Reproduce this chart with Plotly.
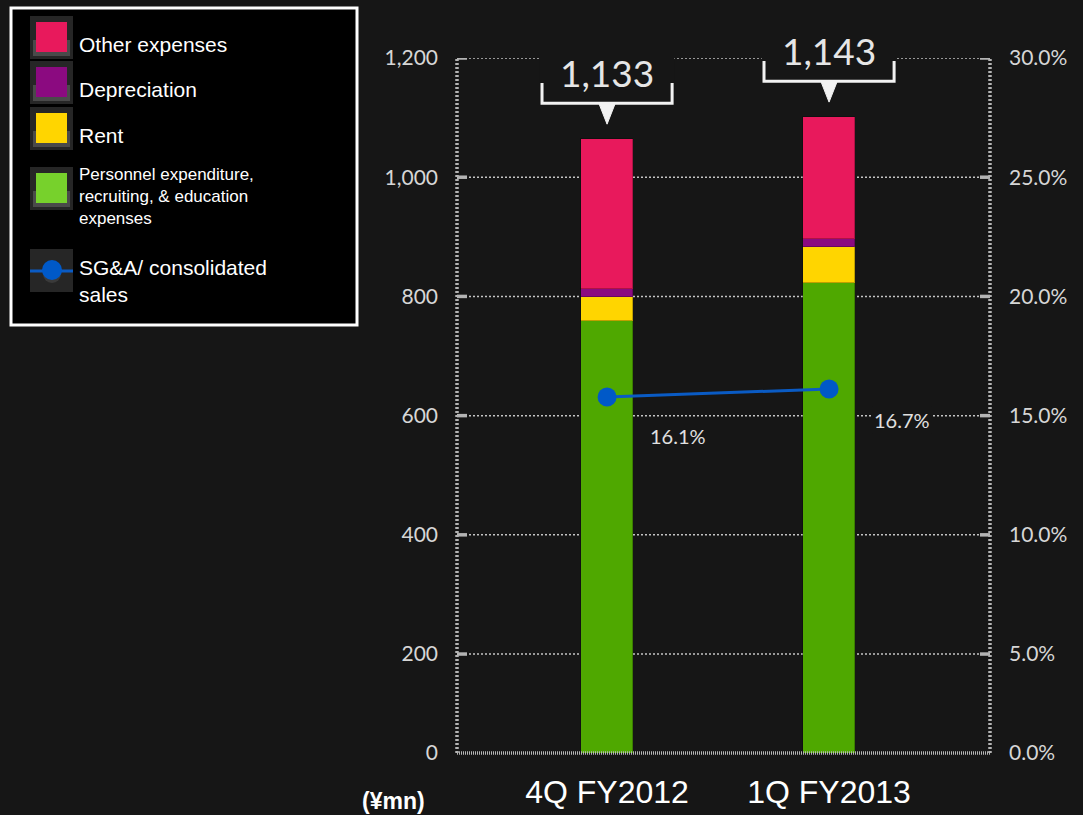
import plotly.graph_objects as go

# ---------------- data ----------------
categories = ["4Q FY2012", "1Q FY2013"]
personnel = [759, 822]
rent = [40, 61]
depreciation = [13, 13]
other = [252, 205]
total_labels = [1133, 1143]
sga_ratio = [15.78, 16.12]
sga_ratio_labels = ["16.1%", "16.7%"]
y_ticks = [0, 200, 400, 600, 800, 1000, 1200]
y_ticktext = ["0", "200", "400", "600", "800", "1,000", "1,200"]
y2_ticks = [0, 5, 10, 15, 20, 25, 30]
y2_ticktext = ["0.0%", "5.0%", "10.0%", "15.0%", "20.0%", "25.0%", "30.0%"]

series_names = ["Other expenses", "Depreciation", "Rent",
                "Personnel expenditure,<br>recruiting, & education<br>expenses"]
line_name = "SG&A/ consolidated<br>sales"

BG = "#161616"
GRID = "#c4c4c4"
AXIS = "#b4b4b4"
C_OTHER = "#E8195C"
C_DEP = "#8B0A80"
C_RENT = "#FFD500"
C_PERS = "#4FA800"
C_PERS_LEG = "#77D12C"
C_LINE = "#0A5BC4"
C_MARK = "#0059C8"

W, H = 1083, 815
ML, MR, MT, MB = 457, 93, 58, 62
PW, PH = W - ML - MR, H - MT - MB

def X(px):
    return (px - ML) / PW

def Y(py):
    return (H - MB - py) / PH

# the original chart's bottom band (0 -> first gridline) is drawn compressed;
# its axes start slightly above zero so the gridlines keep the original spacing
YMIN, YMAX = 34, 1200
Y2MIN, Y2MAX = 0.85, 30

x = list(range(len(categories)))
bw = 0.234

fig = go.Figure()
for vals, col, nm in [(personnel, C_PERS, "Personnel"), (rent, C_RENT, "Rent"),
                      (depreciation, C_DEP, "Depreciation"), (other, C_OTHER, "Other expenses")]:
    fig.add_trace(go.Bar(x=x, y=vals, width=bw, name=nm,
                         marker=dict(color=col, line=dict(color="rgba(0,0,0,0.25)", width=1)),
                         showlegend=False))

fig.add_trace(go.Scatter(x=x, y=sga_ratio, yaxis="y2", mode="lines+markers",
                         line=dict(color=C_LINE, width=3),
                         marker=dict(color=C_MARK, size=19),
                         showlegend=False))

shapes = []
annotations = []

# gridlines (dotted) and inside tick marks
for v in y_ticks[1:]:
    shapes.append(dict(type="line", xref="paper", yref="y", x0=0, x1=1, y0=v, y1=v,
                       line=dict(color=GRID, width=1.5, dash="2px,2px"), layer="below"))
    shapes.append(dict(type="line", xref="paper", yref="y", x0=0, x1=X(ML + 10), y0=v, y1=v,
                       line=dict(color=AXIS, width=3.5), layer="above"))
    shapes.append(dict(type="line", xref="paper", yref="y", x0=X(W - MR - 10), x1=1, y0=v, y1=v,
                       line=dict(color=AXIS, width=3.5), layer="above"))

# axis lines (dotted)
shapes.append(dict(type="line", xref="paper", yref="paper", x0=0, x1=0, y0=0, y1=1,
                   line=dict(color=AXIS, width=3.5, dash="2px,2px")))
shapes.append(dict(type="line", xref="paper", yref="paper", x0=1, x1=1, y0=0, y1=1,
                   line=dict(color=AXIS, width=3.5, dash="2px,2px")))
shapes.append(dict(type="line", xref="paper", yref="paper", x0=0, x1=1, y0=0, y1=0,
                   line=dict(color=AXIS, width=3.5, dash="1px,1px")))

# total callouts
for i in range(len(categories)):
    top = personnel[i] + rent[i] + depreciation[i] + other[i]
    apex = top + 25
    base = apex + 35
    btop = base + 34
    hw = 0.293
    shapes.append(dict(type="rect", xref="x", yref="y", x0=i - hw - 0.01, x1=i + hw + 0.01,
                       y0=base - 2, y1=1300, fillcolor=BG, line=dict(width=0), layer="above"))
    shapes.append(dict(type="path", xref="x", yref="y",
                       path=f"M {i-hw},{btop} L {i-hw},{base} L {i+hw},{base} L {i+hw},{btop}",
                       line=dict(color="#f2f2f2", width=3), layer="above"))
    shapes.append(dict(type="path", xref="x", yref="y",
                       path=f"M {i-0.037},{base} L {i+0.037},{base} L {i},{apex} Z",
                       fillcolor="#f2f2f2", line=dict(color="#f2f2f2", width=1), layer="above"))
    annotations.append(dict(x=i, y=(base + 52 - YMIN) / (YMAX - YMIN), xref="x", yref="paper",
                            text=f"{total_labels[i]:,}",
                            showarrow=False, font=dict(family="Lato", size=37, color="#e6e6e6"),
                            xanchor="center", yanchor="middle"))

# ratio labels
offsets = [(71, -39, None), (73, -31, BG)]
for i, (dx, dy, bg) in enumerate(offsets):
    annotations.append(dict(x=i, y=sga_ratio[i], xref="x", yref="y2", text=sga_ratio_labels[i],
                            showarrow=False, xshift=dx, yshift=dy,
                            font=dict(family="Lato", size=20, color="#e0e0e0"),
                            bgcolor=bg, xanchor="center", yanchor="middle", borderpad=1))

# unit label
annotations.append(dict(x=X(393), y=Y(801), xref="paper", yref="paper", text="<b>(¥mn)</b>",
                        showarrow=False, font=dict(family="Liberation Sans", size=23, color="#ffffff"),
                        xanchor="center", yanchor="middle"))

# ---------------- manual legend ----------------
shapes.append(dict(type="rect", xref="paper", yref="paper", x0=X(11), x1=X(357), y0=Y(8), y1=Y(325),
                   fillcolor="#000000", line=dict(color="#ffffff", width=3)))
leg_items = [
    (series_names[0], C_OTHER, 16, 45, 21),
    (series_names[1], C_DEP, 61, 90, 21),
    (series_names[2], C_RENT, 107, 135, 21),
    (series_names[3], C_PERS_LEG, 167, 196, 17),
]
for name, col, ytop, ytxt, fs in leg_items:
    shapes.append(dict(type="rect", xref="paper", yref="paper", x0=X(30), x1=X(73), y0=Y(ytop), y1=Y(ytop + 43),
                       fillcolor="#262626", line=dict(width=0)))
    shapes.append(dict(type="rect", xref="paper", yref="paper", x0=X(33), x1=X(70), y0=Y(ytop + 24), y1=Y(ytop + 40),
                       fillcolor="#4a4a4a", line=dict(width=0)))
    shapes.append(dict(type="rect", xref="paper", yref="paper", x0=X(36), x1=X(67), y0=Y(ytop + 6), y1=Y(ytop + 36),
                       fillcolor=col, line=dict(width=0)))
    annotations.append(dict(x=X(77), y=Y(ytxt), xref="paper", yref="paper", text=name, showarrow=False,
                            xanchor="left", yanchor="middle", align="left",
                            font=dict(family="Liberation Sans", size=fs, color="#ffffff")))
# line legend item
shapes.append(dict(type="rect", xref="paper", yref="paper", x0=X(30), x1=X(73), y0=Y(249), y1=Y(292),
                   fillcolor="#262626", line=dict(width=0)))
shapes.append(dict(type="circle", xref="paper", yref="paper", x0=X(43), x1=X(61), y0=Y(265), y1=Y(283),
                   fillcolor="#3a3a3a", line=dict(width=0)))
shapes.append(dict(type="line", xref="paper", yref="paper", x0=X(30), x1=X(73), y0=Y(271), y1=Y(271),
                   line=dict(color=C_LINE, width=3)))
shapes.append(dict(type="circle", xref="paper", yref="paper", x0=X(42), x1=X(62), y0=Y(260), y1=Y(280),
                   fillcolor=C_MARK, line=dict(width=0)))
annotations.append(dict(x=X(77), y=Y(281), xref="paper", yref="paper", text=line_name, showarrow=False,
                        xanchor="left", yanchor="middle", align="left",
                        font=dict(family="Liberation Sans", size=21, color="#ffffff")))

fig.update_layout(
    width=W, height=H, margin=dict(l=ML, r=MR, t=MT, b=MB, pad=0, autoexpand=False),
    paper_bgcolor=BG, plot_bgcolor=BG, barmode="stack", bargap=0,
    showlegend=False, shapes=shapes, annotations=annotations,
    xaxis=dict(range=[-0.676, 1.725], tickvals=x, ticktext=categories, showgrid=False,
               zeroline=False, showline=False, ticks="", automargin=False,
               tickfont=dict(family="Liberation Sans", size=32, color="#ffffff"),
               ticklabelstandoff=17, fixedrange=True),
    yaxis=dict(range=[YMIN, YMAX], tickvals=[YMIN] + y_ticks[1:], ticktext=y_ticktext, showgrid=False,
               zeroline=False, showline=False, ticks="", automargin=False,
               tickfont=dict(family="Lato", size=21, color="#d6d6d6"), ticklabelstandoff=18),
    yaxis2=dict(range=[Y2MIN, Y2MAX], overlaying="y", side="right", tickvals=[Y2MIN] + y2_ticks[1:],
                ticktext=y2_ticktext,
                showgrid=False, zeroline=False, showline=False, ticks="", automargin=False,
                tickfont=dict(family="Lato", size=21, color="#d6d6d6"), ticklabelstandoff=18),
)

fig.write_html("out.html")
